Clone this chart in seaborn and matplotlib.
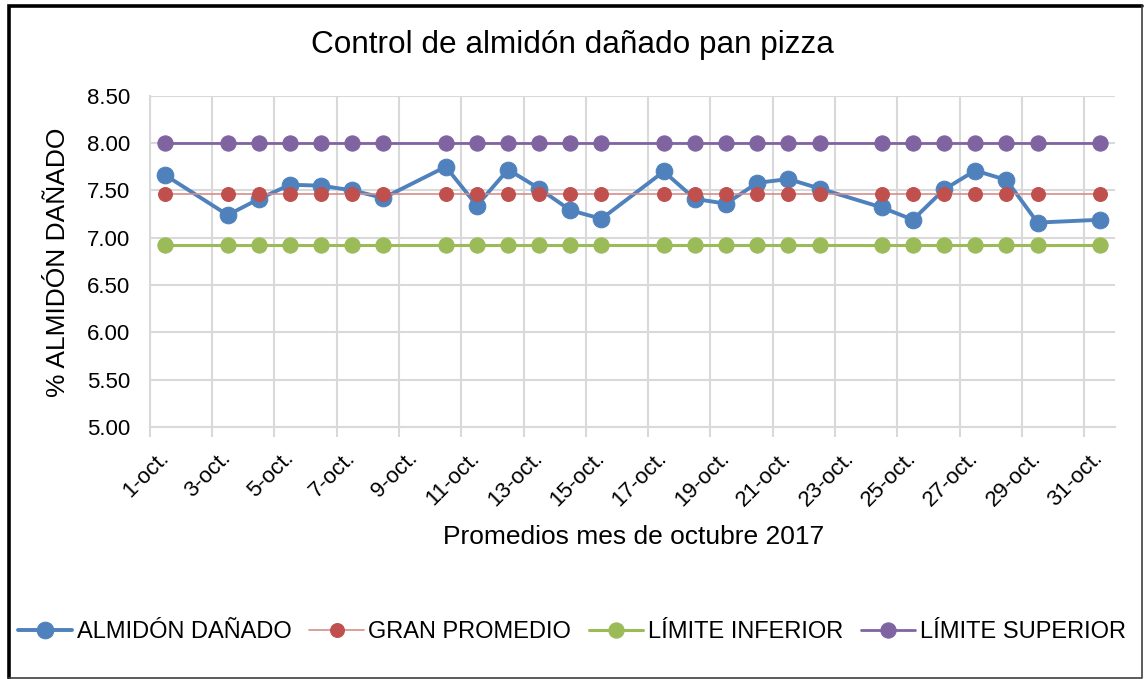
import pandas as pd
import seaborn as sns
import matplotlib.pyplot as plt
from matplotlib.lines import Line2D

# Data (day of October -> % damaged starch)
days = [1, 3, 4, 5, 6, 7, 8, 10, 11, 12, 13, 14, 15, 17, 18, 19, 20, 21, 22,
        24, 25, 26, 27, 28, 29, 31]
almidon = [7.66, 7.24, 7.41, 7.56, 7.55, 7.50, 7.42, 7.75, 7.34, 7.72, 7.52,
           7.29, 7.20, 7.70, 7.41, 7.36, 7.58, 7.62, 7.52, 7.32, 7.19, 7.51,
           7.71, 7.61, 7.16, 7.19]
gran_promedio = [7.46] * len(days)
limite_inferior = [6.92] * len(days)
limite_superior = [8.00] * len(days)

label_days = [1, 3, 5, 7, 9, 11, 13, 15, 17, 19, 21, 23, 25, 27, 29, 31]
tick_labels = ['1-oct.', '3-oct.', '5-oct.', '7-oct.', '9-oct.', '11-oct.',
               '13-oct.', '15-oct.', '17-oct.', '19-oct.', '21-oct.', '23-oct.',
               '25-oct.', '27-oct.', '29-oct.', '31-oct.']
y_ticks = [5.0, 5.5, 6.0, 6.5, 7.0, 7.5, 8.0, 8.5]

df = pd.DataFrame({'dia': days, 'ALMIDÓN DAÑADO': almidon,
                   'GRAN PROMEDIO': gran_promedio,
                   'LÍMITE INFERIOR': limite_inferior,
                   'LÍMITE SUPERIOR': limite_superior})

sns.set_theme(style='white')
plt.rcParams['font.family'] = ['Liberation Sans', 'DejaVu Sans']
plt.rcParams['text.color'] = 'black'
plt.rcParams['xtick.color'] = 'black'
plt.rcParams['ytick.color'] = 'black'

fig = plt.figure(figsize=(11.44, 6.79), dpi=100)
ax = fig.add_axes([0.131, 0.371, 0.844, 0.488])

# series: (name, colour, line width, marker size)
styles = [('ALMIDÓN DAÑADO', '#4F81BD', 2.8, 12),
          ('GRAN PROMEDIO', '#C0504D', 1.2, 10),
          ('LÍMITE INFERIOR', '#9BBB59', 2.2, 11),
          ('LÍMITE SUPERIOR', '#8064A2', 2.0, 11)]
line_colours = {'GRAN PROMEDIO': '#D98C8A'}

for i, (name, col, lw, ms) in enumerate(styles):
    sns.lineplot(data=df, x='dia', y=name, ax=ax, color=line_colours.get(name, col),
                 linewidth=lw, marker='o', markersize=ms, markerfacecolor=col,
                 markeredgecolor=col, label=name, zorder=3 + i)

ax.set_xlim(0.5, 31.5)
ax.set_ylim(5.0, 8.5)
ax.set_yticks(y_ticks)
ax.set_yticklabels([f'{v:.2f}' for v in y_ticks], fontsize=16)

# gridlines/ticks sit between days, labels at the day centres
ax.set_xticks([d - 0.5 for d in label_days])
ax.set_xticklabels([])
ax.set_xticks(label_days, minor=True)
ax.set_xticklabels(tick_labels, minor=True, rotation=45, ha='right',
                   va='center', rotation_mode='anchor', fontsize=16)
ax.tick_params(axis='x', which='major', length=7, width=1.5, color='#D9D9D9',
               bottom=True, direction='out')
ax.tick_params(axis='x', which='minor', length=0, pad=20)
ax.tick_params(axis='y', length=0, pad=14)

ax.grid(True, which='major', color='#D9D9D9', linewidth=1.5)
ax.set_axisbelow(True)
for side in ['top', 'right']:
    ax.spines[side].set_visible(False)
for side in ['left', 'bottom']:
    ax.spines[side].set_color('#D9D9D9')
    ax.spines[side].set_linewidth(1.5)

ax.set_xlabel('')
ax.set_ylabel('')
fig.text(0.051, 0.614, '% ALMIDÓN DAÑADO', rotation=90, ha='center',
         va='center', fontsize=19)
fig.text(0.554, 0.209, 'Promedios mes de octubre 2017', ha='center',
         va='center', fontsize=19)
fig.text(0.5, 0.933, 'Control de almidón dañado pan pizza', ha='center',
         va='center', fontsize=22.7)

ax.get_legend().remove()
handles, labels = ax.get_legend_handles_labels()
fig.legend(handles, labels, loc='center', bbox_to_anchor=(0.5, 0.069), ncol=4,
           frameon=False, fontsize=17, handlelength=2.3, handletextpad=0.2,
           columnspacing=0.75, borderpad=0.2)

# outer chart frame: heavy left/top, thin right/bottom
fig.add_artist(Line2D([0.0075, 0.0075, 0.9985], [0.0015, 0.9915, 0.9915],
                      transform=fig.transFigure, color='black', linewidth=2.6,
                      solid_joinstyle='miter'))
fig.add_artist(Line2D([0.0075, 0.9985, 0.9985], [0.0015, 0.0015, 0.9915],
                      transform=fig.transFigure, color='#404040', linewidth=1.2))

fig.savefig('out.png', dpi=100)
